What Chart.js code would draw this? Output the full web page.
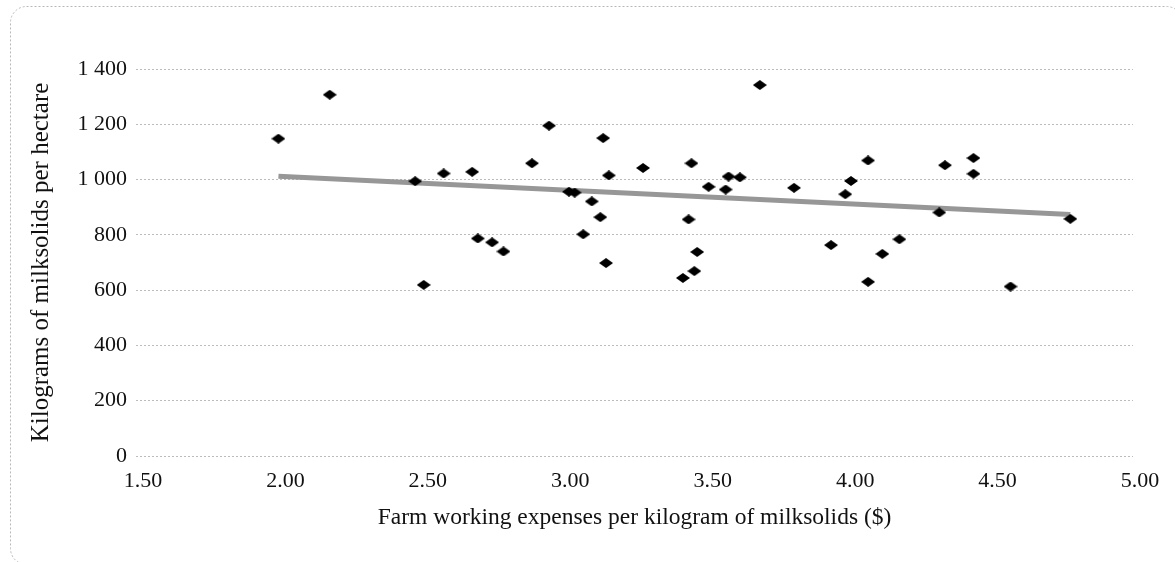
<!DOCTYPE html>
<html>
<head>
<meta charset="utf-8">
<script src="https://cdn.jsdelivr.net/npm/chart.js@4/dist/chart.umd.min.js"></script>
<style>
  html, body { margin: 0; padding: 0; background: #fff; overflow: hidden; }
  #wrap { position: relative; width: 1175px; height: 562px; }
</style>
</head>
<body>
<div id="wrap"><canvas id="chart" width="1175" height="562"></canvas></div>
<script>
// farm working expenses per kg MS ($) and kg MS per hectare
const expenses = [2.00, 2.18, 2.48, 2.51, 2.58, 2.68, 2.70, 2.75, 2.79, 2.89, 2.95, 3.02, 3.04, 3.07, 3.10,
    3.13, 3.14, 3.15, 3.16, 3.28, 3.42, 3.44, 3.45, 3.46, 3.47, 3.51, 3.57, 3.58, 3.62, 3.69,
    3.81, 3.94, 3.99, 4.01, 4.07, 4.07, 4.12, 4.18, 4.32, 4.34, 4.44, 4.44, 4.57, 4.78];
const milksolids = [1148, 1307, 994, 619, 1022, 1028, 787, 773, 740, 1059, 1195, 956, 953, 802, 921,
    864, 1150, 698, 1015, 1042, 644, 856, 1059, 669, 738, 974, 964, 1011, 1008, 1342,
    970, 763, 947, 995, 1069, 630, 731, 784, 881, 1052, 1078, 1021, 613, 858];

// linear trend line end points
const trendX = [2.00, 4.78];
const trendY = [1012, 874];

const xTicks = [1.5, 2, 2.5, 3, 3.5, 4, 4.5, 5];
const yTicks = [0, 200, 400, 600, 800, 1000, 1200, 1400];

const xTitle = 'Farm working expenses per kilogram of milksolids ($)';
const yTitle = 'Kilograms of milksolids per hectare';

const serif = '"Liberation Serif", "Times New Roman", serif';
const tickFont = { family: serif, size: 22 };

// flattened diamond marker like the excel one
const diamond = document.createElement('canvas');
diamond.width = 14;
diamond.height = 10;
const dctx = diamond.getContext('2d');
dctx.fillStyle = '#000';
dctx.beginPath();
dctx.moveTo(7, 0);
dctx.lineTo(14, 5);
dctx.lineTo(7, 10);
dctx.lineTo(0, 5);
dctx.closePath();
dctx.fill();

const frame = {
    id: 'frame',
    beforeDraw(chart) {
        const ctx = chart.ctx;
        ctx.save();
        ctx.strokeStyle = '#b8b8b8';
        ctx.lineWidth = 1;
        ctx.setLineDash([2, 2]);
        ctx.beginPath();
        ctx.roundRect(10.5, 6.5, 1172, 558, 16);
        ctx.stroke();
        ctx.restore();
    }
};

const fmt = v => String(v).replace(/\B(?=(\d{3})+(?!\d))/g, ' ');

new Chart(document.getElementById('chart'), {
    type: 'scatter',
    data: {
        datasets: [
            {
                label: 'Farms',
                data: expenses.map((x, i) => ({ x: x, y: milksolids[i] })),
                pointStyle: diamond,
                pointRadius: 7,
                backgroundColor: '#000',
                borderColor: '#000'
            },
            {
                label: 'Trend',
                data: trendX.map((x, i) => ({ x: x, y: trendY[i] })),
                showLine: true,
                pointRadius: 0,
                borderColor: '#979797',
                borderWidth: 5,
                borderCapStyle: 'butt',
                fill: false
            }
        ]
    },
    options: {
        responsive: false,
        animation: false,
        layout: { padding: { top: 69, right: 42, bottom: 0, left: 0 } },
        plugins: {
            legend: { display: false },
            tooltip: { enabled: false }
        },
        scales: {
            x: {
                type: 'linear',
                min: 1.5,
                max: 5,
                afterBuildTicks: s => { s.ticks = xTicks.map(v => ({ value: v })); },
                afterFit: s => { s.height = 106; },
                grid: { display: false },
                border: { display: false },
                ticks: {
                    font: tickFont,
                    color: '#111',
                    padding: 4,
                    labelOffset: 7,
                    maxRotation: 0,
                    autoSkip: false,
                    callback: v => Number(v).toFixed(2)
                },
                title: {
                    display: true,
                    text: xTitle,
                    font: { family: serif, size: 23.5 },
                    color: '#111',
                    padding: { top: 0, bottom: 30 }
                }
            },
            y: {
                min: 0,
                max: 1400,
                afterBuildTicks: s => { s.ticks = yTicks.map(v => ({ value: v })); },
                afterFit: s => { s.width = 136; },
                grid: { color: '#bcbcbc', lineWidth: 1, drawTicks: false },
                border: { display: false, dash: [2, 2] },
                ticks: {
                    font: tickFont,
                    color: '#111',
                    padding: 9,
                    callback: v => fmt(v)
                },
                title: {
                    display: true,
                    text: yTitle,
                    font: { family: serif, size: 25 },
                    color: '#111',
                    padding: { top: 26, bottom: 0 }
                }
            }
        }
    },
    plugins: [frame]
});
</script>
</body>
</html>
